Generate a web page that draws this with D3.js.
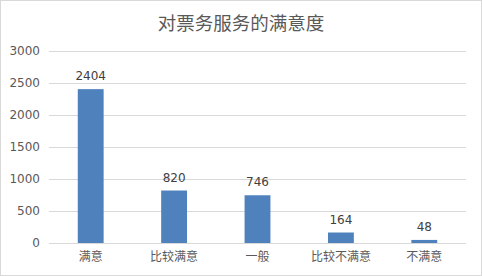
<!DOCTYPE html>
<html>
<head>
<meta charset="utf-8">
<script src="https://cdn.jsdelivr.net/npm/d3@7"></script>
<style>
  body { margin: 0; background: #fff; }
  svg { display: block; }
</style>
</head>
<body>
<div id="chart"></div>
<script>
const categories = ["满意", "比较满意", "一般", "比较不满意", "不满意"];
const values = [2404, 820, 746, 164, 48];
const yTicks = [0, 500, 1000, 1500, 2000, 2500, 3000];
const title = "对票务服务的满意度";

const W = 482, H = 276;
const margin = { top: 51, right: 16, bottom: 33, left: 49 };
const textColor = "#595959";
const cjk = "'Noto Sans CJK SC', 'DejaVu Sans', sans-serif";
const latin = "'DejaVu Sans', 'Open Sans', sans-serif";

const svg = d3.select("#chart").append("svg")
  .attr("width", W).attr("height", H);

// outer frame
svg.append("rect")
  .attr("x", 0.5).attr("y", 0.5)
  .attr("width", W - 1).attr("height", H - 1)
  .attr("fill", "#fff").attr("stroke", "#d9d9d9");

svg.append("text")
  .attr("x", W / 2).attr("y", 30)
  .attr("text-anchor", "middle")
  .attr("font-family", cjk).attr("font-size", 18.5)
  .attr("fill", textColor)
  .text(title);

const x = d3.scaleBand()
  .domain(categories)
  .range([margin.left, W - margin.right])
  .paddingInner(0.69).paddingOuter(0.345);

const y = d3.scaleLinear()
  .domain([0, 3000])
  .range([H - margin.bottom, margin.top]);

// grid + y labels
const yAxis = d3.axisLeft(y).tickValues(yTicks).tickFormat(d3.format("d"))
  .tickSize(0).tickPadding(9);
svg.append("g")
  .attr("transform", `translate(${margin.left},0)`)
  .call(yAxis)
  .call(g => g.select(".domain").remove())
  .call(g => g.selectAll(".tick text")
    .attr("font-family", latin).attr("font-size", 12).attr("fill", textColor))
  .call(g => g.selectAll(".tick line").clone()
    .attr("x2", W - margin.right - margin.left)
    .attr("stroke", "#d9d9d9"));

svg.selectAll(".bar")
  .data(values)
  .join("rect")
  .attr("class", "bar")
  .attr("x", (d, i) => x(categories[i]))
  .attr("y", d => y(d))
  .attr("width", x.bandwidth())
  .attr("height", d => y(0) - y(d))
  .attr("fill", "#4f81bd");

svg.selectAll(".lbl")
  .data(values)
  .join("text")
  .attr("class", "lbl")
  .attr("x", (d, i) => x(categories[i]) + x.bandwidth() / 2)
  .attr("y", d => y(d) - 9)
  .attr("text-anchor", "middle")
  .attr("font-family", latin).attr("font-size", 12)
  .attr("fill", "#404040")
  .text(d => d);

// x axis baseline + labels
const xAxis = d3.axisBottom(x).tickSize(0).tickPadding(9);
svg.append("g")
  .attr("transform", `translate(0,${y(0)})`)
  .call(xAxis)
  .call(g => g.select(".domain").attr("stroke", "#d9d9d9")
    .attr("d", `M${margin.left},0.5H${W - margin.right}`))
  .call(g => g.selectAll(".tick text")
    .attr("font-family", cjk).attr("font-size", 12).attr("fill", textColor));
</script>
</body>
</html>
